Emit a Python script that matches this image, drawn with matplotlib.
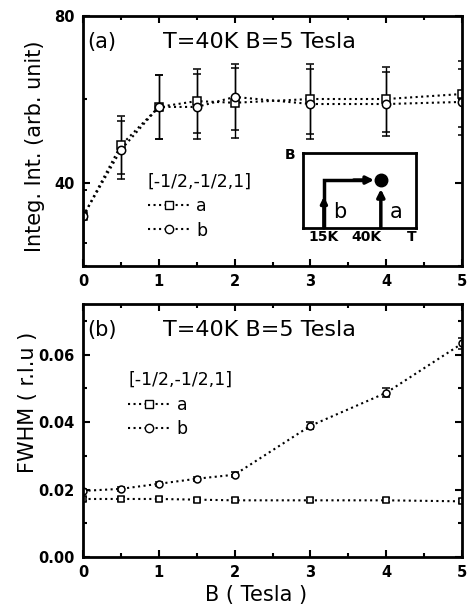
import matplotlib.pyplot as plt
from matplotlib.lines import Line2D
from matplotlib.ticker import MultipleLocator

plt.rcParams['font.family'] = ['DejaVu Sans']

# magnetic field (Tesla)
B = [0, 0.5, 1, 1.5, 2, 3, 4, 5]

# integrated intensity, path a (squares) and path b (circles)
int_a = [31.9, 49.0, 58.2, 59.6, 59.2, 60.1, 60.1, 61.3]
int_a_err = [6.4, 7.0, 7.6, 7.6, 8.4, 8.3, 7.8, 8.0]
int_b = [31.9, 47.9, 58.2, 58.2, 60.6, 58.9, 58.9, 59.4]
int_b_err = [6.4, 7.0, 7.6, 7.8, 8.0, 8.3, 7.8, 8.0]

# peak width
fwhm_a = [0.0172, 0.0172, 0.0172, 0.0170, 0.0168, 0.0168, 0.0168, 0.0165]
fwhm_a_err = [0.0006, 0.0006, 0.0006, 0.0006, 0.0006, 0.0006, 0.0006, 0.0006]
fwhm_b = [0.0196, 0.0202, 0.0217, 0.0232, 0.0244, 0.0389, 0.0487, 0.0633]
fwhm_b_err = [0.0005, 0.0005, 0.0006, 0.0006, 0.0007, 0.0011, 0.0013, 0.0015]

fig = plt.figure(figsize=(4.68, 6.11), dpi=100)
ax1 = fig.add_axes([0.1774, 0.5646, 0.810, 0.409])
ax2 = fig.add_axes([0.1774, 0.0884, 0.810, 0.414])

lab_fs = 15
txt_fs = 16
leg_fs = 12.5


def style(ax):
    for s in ax.spines.values():
        s.set_linewidth(2)
    ax.tick_params(which='both', direction='in', top=True, right=True,
                   labelsize=10.5, width=1.5, pad=6)
    ax.tick_params(which='major', length=5)
    ax.tick_params(which='minor', length=3)
    ax.set_xlim(0, 5)
    ax.xaxis.set_major_locator(MultipleLocator(1))
    ax.xaxis.set_minor_locator(MultipleLocator(0.5))
    for t in ax.get_xticklabels() + ax.get_yticklabels():
        t.set_fontweight('bold')


def series(ax, y, yerr, marker, ms):
    ax.errorbar(B, y, yerr=yerr, fmt=':', color='black', lw=1.5,
                marker=marker, ms=ms, mfc='white', mec='black', mew=1.1,
                ecolor='black', elinewidth=1.0, capsize=3, capthick=1.0)


def legend(ax, x, y, ms):
    handles = [Line2D([], [], ls=':', lw=1.5, color='black', marker='s',
                      ms=ms, mfc='white', mec='black'),
               Line2D([], [], ls=':', lw=1.5, color='black', marker='o',
                      ms=ms, mfc='white', mec='black')]
    ax.legend(handles, ['a', 'b'], title='[-1/2,-1/2,1]',
              loc='upper left', bbox_to_anchor=(x, y), frameon=False,
              fontsize=leg_fs, title_fontsize=leg_fs, handlelength=2.4,
              handletextpad=0.4, labelspacing=0.38, borderpad=0,
              borderaxespad=0, alignment='left', numpoints=1)


# (a) integrated intensity
series(ax1, int_a, int_a_err, 's', 6)
series(ax1, int_b, int_b_err, 'o', 6)
style(ax1)
ax1.set_ylim(20, 80)
ax1.yaxis.set_major_locator(MultipleLocator(40))
ax1.yaxis.set_minor_locator(MultipleLocator(20))
ax1.set_ylabel('Integ. Int. (arb. unit)', fontsize=lab_fs)
ax1.yaxis.set_label_coords(-0.10, 0.48)
ax1.text(0.012, 0.935, '(a)', transform=ax1.transAxes, fontsize=lab_fs, va='top')
ax1.text(0.21, 0.935, 'T=40K B=5 Tesla', transform=ax1.transAxes,
         fontsize=txt_fs, va='top')
legend(ax1, 0.171, 0.375, 6)

# inset: field / temperature paths
ins = ax1.inset_axes([0.580, 0.152, 0.298, 0.30])
ins.set_xlim(0, 1)
ins.set_ylim(0, 1)
ins.set_xticks([])
ins.set_yticks([])
for s in ins.spines.values():
    s.set_linewidth(2)
ins.plot([0.186, 0.186, 0.55], [0, 0.64, 0.64], color='black', lw=2.5,
         solid_joinstyle='miter')
ins.annotate('', xy=(0.63, 0.64), xytext=(0.45, 0.64),
             arrowprops=dict(arrowstyle='-|>', color='black', lw=2.5,
                             mutation_scale=11, shrinkA=0, shrinkB=0))
ins.annotate('', xy=(0.186, 0.42), xytext=(0.186, 0.0),
             arrowprops=dict(arrowstyle='-|>', color='black', lw=2.5,
                             mutation_scale=9, shrinkA=0, shrinkB=0))
ins.annotate('', xy=(0.69, 0.52), xytext=(0.69, 0.0),
             arrowprops=dict(arrowstyle='-|>', color='black', lw=2.5,
                             mutation_scale=11, shrinkA=0, shrinkB=0))
ins.plot([0.69], [0.64], 'o', color='black', ms=9)
ins.text(0.27, 0.13, 'b', fontsize=15, ha='left', va='baseline')
ins.text(0.77, 0.13, 'a', fontsize=15, ha='left', va='baseline')
ins.text(-0.115, 0.97, 'B', fontsize=10, fontweight='bold', va='center', ha='center')
ins.text(0.18, -0.02, '15K', fontsize=10, fontweight='bold', va='top', ha='center')
ins.text(0.56, -0.02, '40K', fontsize=10, fontweight='bold', va='top', ha='center')
ins.text(0.96, -0.02, 'T', fontsize=10, fontweight='bold', va='top', ha='center')

# (b) FWHM
series(ax2, fwhm_a, fwhm_a_err, 's', 4.5)
series(ax2, fwhm_b, fwhm_b_err, 'o', 5)
style(ax2)
ax2.set_ylim(0, 0.075)
ax2.yaxis.set_major_locator(MultipleLocator(0.02))
ax2.yaxis.set_minor_locator(MultipleLocator(0.01))
ax2.yaxis.set_major_formatter(lambda v, p: f'{v:.2f}')
ax2.set_ylabel('FWHM ( r.l.u )', fontsize=lab_fs)
ax2.yaxis.set_label_coords(-0.12, 0.61)
ax2.set_xlabel('B ( Tesla )', fontsize=lab_fs)
ax2.xaxis.set_label_coords(0.456, -0.11)
ax2.text(0.012, 0.935, '(b)', transform=ax2.transAxes, fontsize=lab_fs, va='top')
ax2.text(0.21, 0.935, 'T=40K B=5 Tesla', transform=ax2.transAxes,
         fontsize=txt_fs, va='top')
legend(ax2, 0.119, 0.735, 6)

fig.savefig('out.png', dpi=100)
